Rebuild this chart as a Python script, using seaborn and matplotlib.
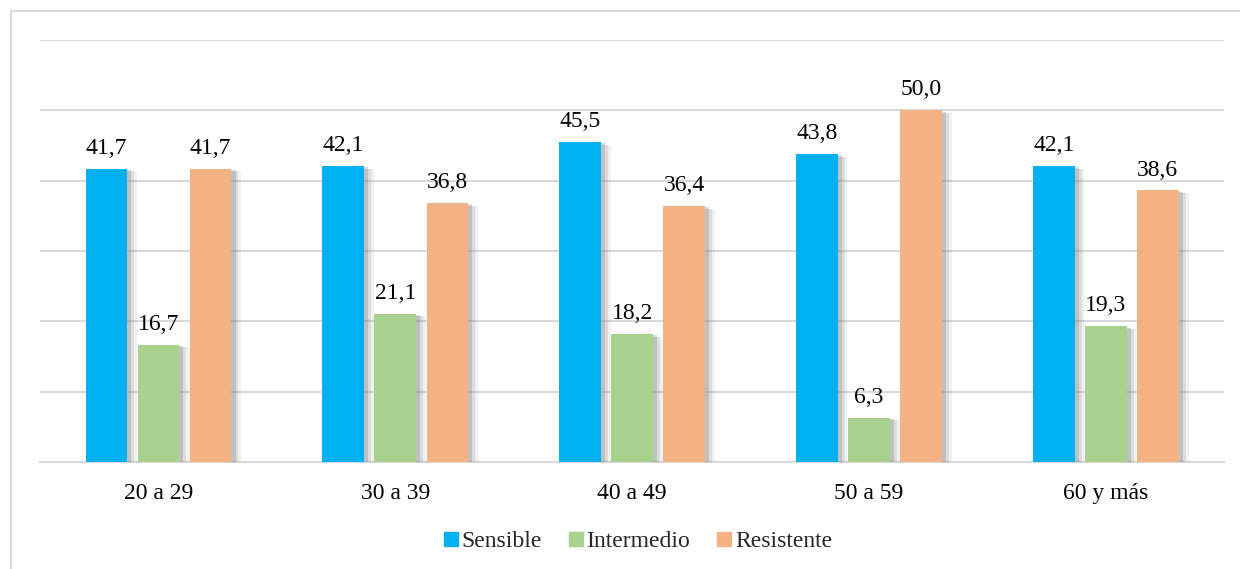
import matplotlib
matplotlib.use("Agg")
import matplotlib.pyplot as plt
import matplotlib.patheffects as pe
from matplotlib.lines import Line2D
import seaborn as sns
import pandas as pd

categories = ["20 a 29", "30 a 39", "40 a 49", "50 a 59", "60 y más"]
series_names = ["Sensible", "Intermedio", "Resistente"]
sensible = [41.7, 42.1, 45.5, 43.8, 42.1]
intermedio = [16.7, 21.1, 18.2, 6.3, 19.3]
resistente = [41.7, 36.8, 36.4, 50.0, 38.6]
colors = ["#00B0F0", "#A9D18E", "#F4B183"]

rows = []
for name, vals in zip(series_names, [sensible, intermedio, resistente]):
    for cat, v in zip(categories, vals):
        rows.append({"Edad": cat, "Resultado": name, "Porcentaje": v})
df = pd.DataFrame(rows)

sns.set_theme(style="white")
plt.rcParams["font.family"] = ["Liberation Serif", "DejaVu Serif"]

fig = plt.figure(figsize=(12.4, 5.69), dpi=100)
ax = fig.add_axes([0.0323, 0.188, 0.955, 0.742])

sns.barplot(data=df, x="Edad", y="Porcentaje", hue="Resultado",
            palette=colors, width=0.66, gap=0.2, ax=ax, legend=False,
            saturation=1, edgecolor="none", linewidth=0, zorder=3)

# soft drop shadow to the right of each bar
shadow = [pe.SimplePatchShadow(offset=(7, -2), shadow_rgbFace="#8c8c8c", alpha=0.12),
          pe.SimplePatchShadow(offset=(5, -2), shadow_rgbFace="#7f7f7f", alpha=0.18),
          pe.SimplePatchShadow(offset=(3, -1), shadow_rgbFace="#6f6f6f", alpha=0.25),
          pe.Normal()]
for patch in ax.patches:
    patch.set_path_effects(shadow)

for cont in ax.containers:
    ax.bar_label(cont, labels=[f"{v:.1f}".replace(".", ",") for v in cont.datavalues],
                 padding=7, fontsize=17, color="#000000")

ax.set_ylim(0, 60)
ax.set_xlim(-0.5, 4.5)
ax.set_yticks([0, 10, 20, 30, 40, 50, 60])
ax.set_yticklabels([])
ax.tick_params(axis="y", length=0)
ax.tick_params(axis="x", length=0, pad=15, labelsize=17, labelcolor="#000000")
ax.yaxis.grid(True, color="#D9D9D9", linewidth=1.5, zorder=0)
ax.set_axisbelow(True)
ax.set_xlabel("")
ax.set_ylabel("")
for s in ["top", "right", "left"]:
    ax.spines[s].set_visible(False)
ax.spines["bottom"].set_color("#D9D9D9")
ax.spines["bottom"].set_linewidth(1.5)

handles = [Line2D([0], [0], marker="s", linestyle="none", markersize=10,
                  markerfacecolor=c, markeredgecolor=c) for c in colors]
fig.legend(handles, series_names, loc="center", bbox_to_anchor=(0.513, 0.049),
           ncol=3, frameon=False, fontsize=17, handletextpad=0.0,
           columnspacing=1.0, handlelength=0.9)

# outer frame on the left and top edges
fig.add_artist(Line2D([11 / 1240, 11 / 1240], [0, 1 - 11 / 569],
                      transform=fig.transFigure, color="#D9D9D9", linewidth=1.5))
fig.add_artist(Line2D([11 / 1240, 1], [1 - 11 / 569, 1 - 11 / 569],
                      transform=fig.transFigure, color="#D9D9D9", linewidth=1.5))

fig.savefig("out.png", dpi=100, facecolor="white")
